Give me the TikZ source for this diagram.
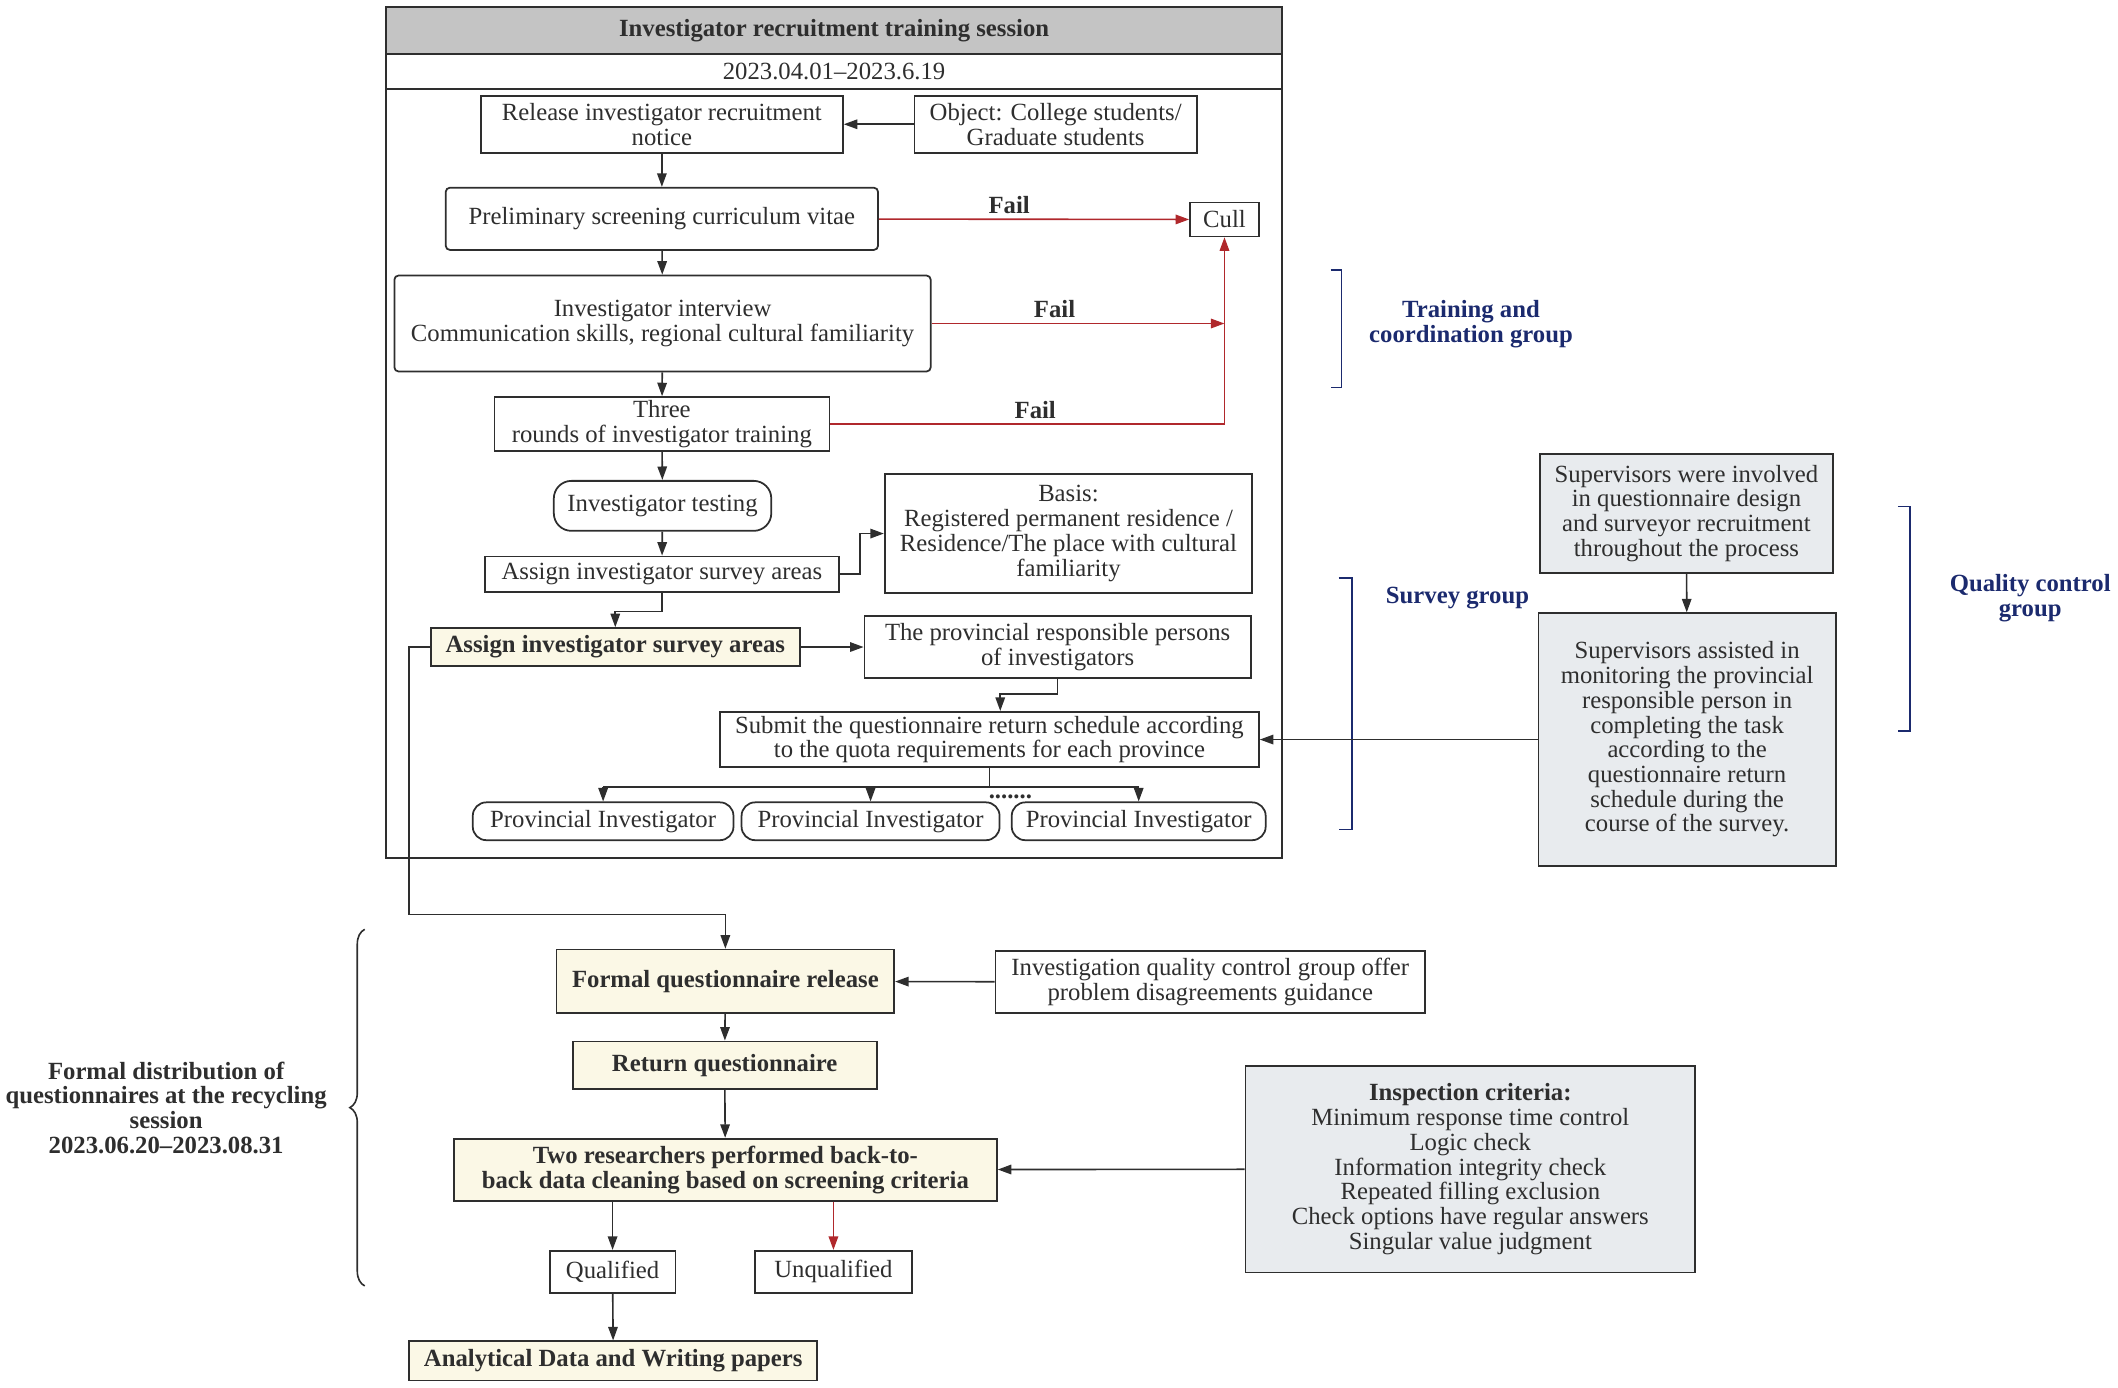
\documentclass[tikz,border=0pt]{standalone}
\usepackage{fontspec}
\setmainfont{Liberation Serif}
\usepackage{tikz}
\usetikzlibrary{arrows.meta,decorations.pathreplacing}
\definecolor{inkgray}{HTML}{2E2E2E}
\definecolor{titlegray}{HTML}{C4C4C4}
\definecolor{paleyellow}{HTML}{FBF8E6}
\definecolor{palegray}{HTML}{E8EBEE}
\definecolor{groupblue}{HTML}{1B2A6E}
\definecolor{failred}{HTML}{B0282C}
\newcommand{\diagfont}{\fontsize{18.3}{18.3}\selectfont}
\tikzset{
  box/.style={draw=inkgray, line width=1.3pt, rectangle, align=center, inner sep=0pt, text=inkgray},
  keybox/.style={box, fill=paleyellow, font=\diagfont\bfseries},
  qcbox/.style={box, fill=palegray},
  roundbox/.style={box, rounded corners=#1},
  wire/.style={draw=inkgray, line width=1.2pt, -{Triangle[length=10pt,width=7pt]}},
  failwire/.style={draw=failred, line width=1.2pt, -{Triangle[length=10pt,width=7pt]}},
  faillabel/.style={text=inkgray, font=\diagfont\bfseries},
  grouplabel/.style={text=groupblue, align=center, font=\diagfont\bfseries},
  bracket/.style={draw=groupblue, line width=1.2pt}
}
\begin{document}
\begin{tikzpicture}[x=1pt, y=-1pt, font=\diagfont]
		\useasboundingbox (0,0) rectangle (1568,1027);
		% Recruitment and training session:
		\draw[inkgray, line width=1.3pt] (286,66) rectangle (949,635);
		\node[box, fill=titlegray, minimum width=663pt, minimum height=35pt, font=\diagfont\bfseries] (title) at (617.5,22.5) {Investigator recruitment training session};
		\node[box, minimum width=663pt, minimum height=26pt] (date) at (617.5,53) {2023.04.01--2023.6.19};
		\node[box, minimum width=268pt, minimum height=42pt] (release) at (490,92) {Release investigator recruitment\\notice};
		\node[box, minimum width=209pt, minimum height=42pt] (object) at (781.5,92) {Object: College students/\\Graduate students};
		\node[roundbox=3pt, minimum width=320pt, minimum height=46pt] (prelim) at (490,162) {Preliminary screening curriculum vitae};
		\node[box, minimum width=51pt, minimum height=25pt] (cull) at (906.5,162.5) {Cull};
		\node[roundbox=3pt, minimum width=397pt, minimum height=71pt] (interview) at (490.5,239.5) {Investigator interview\\Communication skills, regional cultural familiarity};
		\node[box, minimum width=248pt, minimum height=40pt] (training) at (490,314) {Three\\rounds of investigator training};
		\node[roundbox=13pt, minimum width=161pt, minimum height=37pt] (testing) at (490.5,374.5) {Investigator testing};
		\node[box, minimum width=262pt, minimum height=26pt] (assign1) at (490,425) {Assign investigator survey areas};
		\node[box, minimum width=272pt, minimum height=88pt] (basis) at (791,395) {Basis:\\Registered permanent residence /\\Residence/The place with cultural\\familiarity};
		\node[keybox, minimum width=273pt, minimum height=28pt] (assign2) at (455.5,479) {Assign investigator survey areas};
		\node[box, minimum width=286pt, minimum height=46pt] (provpers) at (783,479) {The provincial responsible persons\\of investigators};
		\node[box, minimum width=399pt, minimum height=41pt] (submit) at (732.5,547.5) {Submit the questionnaire return schedule according\\to the quota requirements for each province};
		\node[roundbox=10pt, minimum width=193pt, minimum height=28pt] (pi1) at (446.5,608) {Provincial Investigator};
		\node[roundbox=10pt, minimum width=191pt, minimum height=28pt] (pi2) at (644.5,608) {Provincial Investigator};
		\node[roundbox=10pt, minimum width=188pt, minimum height=28pt] (pi3) at (843,608) {Provincial Investigator};
		\node[text=inkgray, inner sep=0pt, font=\diagfont\bfseries] (dots) at (748,590) {.......};
		% Quality control boxes:
		\node[qcbox, minimum width=217pt, minimum height=88pt] (sup1) at (1248.5,380) {Supervisors were involved\\in questionnaire design\\and surveyor recruitment\\throughout the process};
		\node[qcbox, minimum width=220pt, minimum height=187pt] (sup2) at (1249,547.5) {Supervisors assisted in\\monitoring the provincial\\responsible person in\\completing the task\\according to the\\questionnaire return\\schedule during the\\course of the survey.};
		% Formal distribution session:
		\node[keybox, minimum width=250pt, minimum height=47pt] (formal) at (537,726.5) {Formal questionnaire release};
		\node[box, minimum width=318pt, minimum height=46pt] (guide) at (896,727) {Investigation quality control group offer\\problem disagreements guidance};
		\node[keybox, minimum width=225pt, minimum height=35pt] (return) at (536.5,788.5) {Return questionnaire};
		\node[keybox, minimum width=402pt, minimum height=46pt] (clean) at (537,866) {Two researchers performed back-to-\\back data cleaning based on screening criteria};
		\node[qcbox, minimum width=333pt, minimum height=153pt] (criteria) at (1088.5,865.5) {\textbf{Inspection criteria:}\\Minimum response time control\\Logic check\\Information integrity check\\Repeated filling exclusion\\Check options have regular answers\\Singular value judgment};
		\node[box, minimum width=93pt, minimum height=31pt] (qualified) at (453.5,941.5) {Qualified};
		\node[box, minimum width=116pt, minimum height=31pt] (unqualified) at (617,941.5) {Unqualified};
		\node[keybox, minimum width=302pt, minimum height=29pt] (analytical) at (454,1007.5) {Analytical Data and Writing papers};
		% Group labels and brackets:
		\node[grouplabel] (tcg) at (1089,240) {Training and\\coordination group};
		\node[grouplabel] (sg) at (1079,443) {Survey group};
		\node[grouplabel] (qcg) at (1503,443) {Quality control\\group};
		\node[text=inkgray, align=center, font=\diagfont\bfseries] (session) at (123,820) {Formal distribution of\\questionnaires at the recycling\\session\\2023.06.20--2023.08.31};
		\draw[bracket] (985,200) -- (993,200) -- (993,287) -- (985,287);
		\draw[bracket] (991,428) -- (1001,428) -- (1001,614) -- (991,614);
		\draw[bracket] (1405,375) -- (1414,375) -- (1414,541) -- (1405,541);
		\draw[inkgray, line width=1.2pt, decorate, decoration={brace, amplitude=11pt}] (270,952) -- (270,688);
		% Wires:
		\draw[wire] (object) -- (release);
		\draw[wire] (release) -- (prelim);
		\draw[wire] (prelim) -- (interview);
		\draw[wire] (interview) -- (training);
		\draw[wire] (training) -- (testing);
		\draw[wire] (testing) -- (assign1);
		\draw[wire] (assign1.east) -- ++(15,0) |- (basis.west);
		\draw[wire] (assign1.south) -- ++(0,14) -| (assign2.north);
		\draw[wire] (assign2) -- (provpers);
		\draw[wire] (provpers.south) -- ++(0,11) -| ([xshift=8pt]submit.north);
		\coordinate (split) at ([yshift=-14pt]submit.south);
		\draw[inkgray, line width=1.1pt] (submit.south) -- (split);
		\draw[inkgray, line width=1.1pt] (pi1.north |- split) -- (pi3.north |- split);
		\foreach \p in {pi1,pi2,pi3}
			\draw[wire, line width=1.1pt] (\p.north |- split) -- (\p.north);
		\draw[failwire] (prelim) -- node[above, pos=0.42, faillabel] {Fail} (cull);
		\draw[failwire] (interview.east) -- node[above, pos=0.42, faillabel] {Fail} (interview.east -| cull.south);
		\draw[failwire] (training.east) -- node[above, pos=0.52, faillabel] {Fail} (training.east -| cull.south) -- (cull.south);
		\draw[wire] (sup1) -- (sup2);
		\draw[wire] (sup2.west) -- (submit.east);
		\coordinate (bend) at (303,677);
		\draw[wire] (assign2.west) -| (bend) -| (formal.north);
		\draw[wire] (guide) -- (formal);
		\draw[wire] (formal) -- (return);
		\draw[wire] (return) -- (clean);
		\draw[wire] (criteria) -- (clean);
		\draw[wire] (clean.south -| qualified.north) -- (qualified.north);
		\draw[failwire] (clean.south -| unqualified.north) -- (unqualified.north);
		\draw[wire] (qualified) -- (analytical);
	\end{tikzpicture}
\end{document}
